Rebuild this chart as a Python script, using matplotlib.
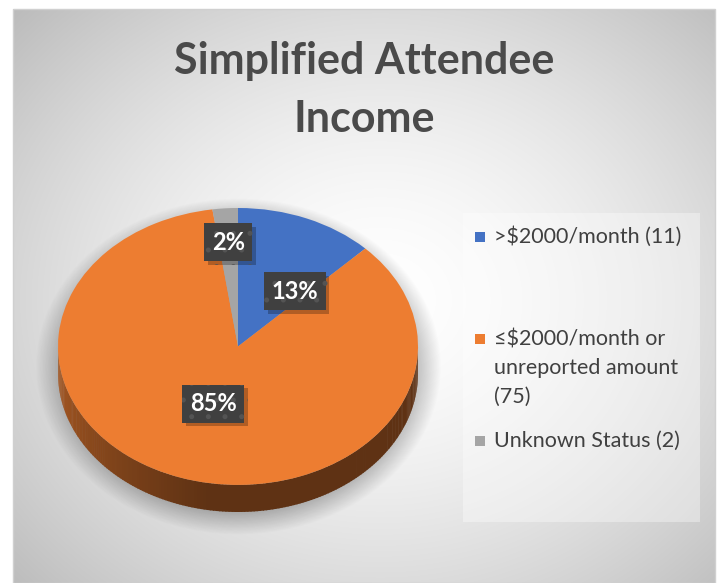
import numpy as np
import matplotlib
matplotlib.use('Agg')
import matplotlib.pyplot as plt
import matplotlib.patheffects as pe
from matplotlib.patches import Rectangle, Polygon
from matplotlib.colors import to_rgb

# ---- data ----
labels = [">$2000/month (11)", "≤$2000/month or\nunreported amount\n(75)", "Unknown Status (2)"]
counts = [11, 75, 2]
pct_text = ["13%", "85%", "2%"]
colors = ["#4472C4", "#ED7D31", "#A5A5A5"]
title = "Simplified Attendee\nIncome"

W, H = 719, 583
plt.rcParams['font.family'] = ['Lato', 'DejaVu Sans']
plt.rcParams['hatch.linewidth'] = 1.2

fig = plt.figure(figsize=(W / 100, H / 100), dpi=100)
fig.patch.set_facecolor('white')

# background axes in pixel coords
bg = fig.add_axes([0, 0, 1, 1])
bg.set_xlim(0, W)
bg.set_ylim(H, 0)
bg.axis('off')

# radial gradient chart area
x0, y0, x1, y1 = 13, 9, 715, 583
yy, xx = np.mgrid[y0:y1, x0:x1]
r = np.hypot((xx - 380) / 470.0, (yy - 300) / 400.0)
val = 1.0 - 0.24 * np.clip(r, 0, 1.2) ** 1.6
img = np.dstack([val, val, val])
bg.imshow(img, extent=(x0, x1, y1, y0), aspect='auto', zorder=0)
bg.add_patch(Rectangle((x0, y0), x1 - x0, y1 - y0, fill=False, ec='#d0d0d0', lw=1, zorder=1))

# soft shadow under the pie
cx, cy, a, b = 238, 366, 188, 156
sy, sx = np.mgrid[180:545, 30:450]
d = np.hypot((sx - cx) / a, (sy - cy) / b)
alpha = 0.32 * np.clip((1.08 - d) / 0.18, 0, 1)
shadow = np.zeros((sy.shape[0], sy.shape[1], 4))
shadow[..., 3] = alpha
bg.imshow(shadow, extent=(30, 450, 545, 180), aspect='auto', zorder=2)

# title
for i, line in enumerate(title.split("\n")):
    bg.text(364, 61 + i * 58, line, ha='center', va='center', fontsize=31,
            fontweight='bold', color='#4a4a4a', zorder=5)

# ---- pie (3D look) ----
depth = 27 / 138.0
pax = fig.add_axes([58 / W, 1 - 512 / H, 360 / W, (512 - 208) / H])
pax.axis('off')
wedges, _ = pax.pie(counts, colors=colors, startangle=90, counterclock=False,
                    radius=1, center=(0, 0), wedgeprops=dict(lw=0))
pax.set_aspect('auto')
pax.set_xlim(-1, 1)
pax.set_ylim(-1 - depth, 1)

fracs = np.array(counts) / np.sum(counts)
bounds = 90 - 360 * np.concatenate([[0], np.cumsum(fracs)])


def slice_at(theta):
    t = 90 - ((90 - theta) % 360)
    for i in range(len(counts)):
        if bounds[i + 1] <= t <= bounds[i]:
            return i
    return 0


step = 1.0
for th in np.arange(180, 360, step):
    i = slice_at(th + step / 2)
    f = 0.72 - 0.32 * min((th - 180) / 80.0, 1.0)
    c = np.array(to_rgb(colors[i])) * f
    t = np.radians([th, th + step + 0.3])
    xs = np.cos(t)
    ys = np.sin(t)
    poly = [(xs[0], ys[0]), (xs[1], ys[1]), (xs[1], ys[1] - depth), (xs[0], ys[0] - depth)]
    pax.add_patch(Polygon(poly, closed=True, fc=c, ec='none', zorder=0))
for w in wedges:
    w.set_zorder(2)

# data labels (layout: radius, angle shift per slice)
lab_r = [0.51, 0.435, 0.754]
lab_shift = [-16, 0, 0]
for i in range(len(counts)):
    mid = (bounds[i] + bounds[i + 1]) / 2 + lab_shift[i]
    lx = lab_r[i] * np.cos(np.radians(mid))
    ly = lab_r[i] * np.sin(np.radians(mid))
    t = pax.text(lx, ly, pct_text[i], ha='center', va='center', fontsize=17,
                 fontweight='bold', color='white',
                 bbox=dict(boxstyle='square,pad=0.32', fc='#404040', ec='#545454', lw=0, hatch='.'),
                 zorder=5)
    t.get_bbox_patch().set_path_effects(
        [pe.SimplePatchShadow(offset=(2.5, -2.5), shadow_rgbFace='black', alpha=0.25), pe.Normal()])

# ---- legend ----
bg.add_patch(Rectangle((463, 213), 237, 309, fc=(1, 1, 1, 0.35), ec='none', zorder=3))
leg_y = [237, 339, 441]
for i, lab in enumerate(labels):
    bg.add_patch(Rectangle((475, leg_y[i] - 5), 10, 10, fc=colors[i], ec='none', zorder=4))
    for j, line in enumerate(lab.split("\n")):
        bg.text(494, leg_y[i] + j * 29, line, ha='left', va='center', fontsize=15.5,
                color='#404040', zorder=5)

fig.savefig('out.png', dpi=100)
